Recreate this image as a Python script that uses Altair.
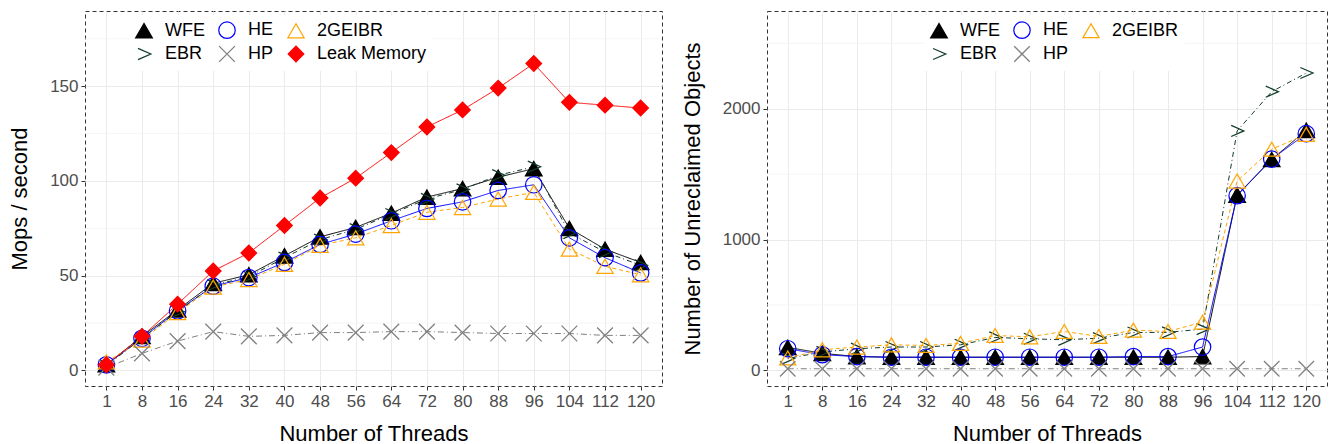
import altair as alt
import pandas as pd

threads = [1, 8, 16, 24, 32, 40, 48, 56, 64, 72, 80, 88, 96, 104, 112, 120]

# Left panel: throughput (Mops / second)
mops_wfe = [3, 18, 32, 46, 50.5, 60.5, 70.5, 75.5, 83, 91.5, 96, 102, 106.5, 75, 64, 57]
mops_ebr = [2.5, 17, 31, 45, 49.5, 59.5, 69, 74.5, 82.5, 90.5, 95.5, 103, 107.5, 72.5, 62.5, 55.5]
mops_he = [3, 17, 31.5, 44.5, 49, 57, 66.5, 72, 79, 85.5, 89, 95, 98, 70, 59.5, 51.5]
mops_2ge = [4.5, 16, 30.5, 44, 48, 56, 66, 70, 76.5, 83.5, 86, 90.5, 94, 64, 55, 50.5]
mops_hp = [1.5, 9, 15.5, 20.5, 18, 18.5, 20, 20, 20.5, 20.5, 20, 19.5, 19.5, 19.5, 18.5, 18.5]
mops_leak = [3, 18, 35, 52.5, 62, 76.5, 91, 101.5, 115, 128.5, 137.5, 149, 162, 141.5, 140, 138.5]

# Right panel: unreclaimed objects
unr_wfe = [175, 130, 105, 100, 100, 100, 100, 100, 100, 100, 100, 100, 105, 1340, 1612, 1835]
unr_ebr = [90, 140, 165, 178, 178, 195, 251, 241, 233, 246, 289, 290, 315, 1830, 2130, 2273]
unr_he = [165, 119, 105, 100, 100, 100, 100, 100, 100, 100, 105, 105, 178, 1335, 1615, 1809]
unr_2ge = [94, 157, 178, 195, 190, 206, 266, 256, 297, 259, 307, 297, 368, 1447, 1690, 1804]
unr_hp = [12, 12, 12, 12, 12, 12, 12, 12, 12, 12, 12, 12, 12, 12, 12, 12]

names_left = ["WFE", "HE", "2GEIBR", "EBR", "HP", "Leak Memory"]
names_right = ["WFE", "HE", "2GEIBR", "EBR", "HP"]

X_PATH = "M-1,-1L1,1M-1,1L1,-1"
CHEV_PATH = "M-0.75,-0.7L0.85,0L-0.75,0.7"

STYLE = {
    "WFE": dict(color="#000000", fill="#000000", shape="triangle-up", size=280, dash=[1, 0], sw=1.2),
    "HE": dict(color="#0000FF", fill="transparent", shape="circle", size=240, dash=[1, 0], sw=1.3),
    "2GEIBR": dict(color="#FFA500", fill="transparent", shape="triangle-up", size=340, dash=[4, 3], sw=1.3),
    "EBR": dict(color="#123D2A", fill="transparent", shape=CHEV_PATH, size=65, dash=[1, 3, 5, 3], sw=2.2),
    "HP": dict(color="#808080", fill="transparent", shape=X_PATH, size=200, dash=[6, 3, 1, 3], sw=1.3),
    "Leak Memory": dict(color="#FF0000", fill="#FF0000", shape="diamond", size=230, dash=[1, 0], sw=1),
}


def long_df(series):
    rows = []
    for name, vals in series:
        for t, v in zip(threads, vals):
            rows.append({"threads": t, "value": v, "series": name})
    return pd.DataFrame(rows)


df_left = long_df([("WFE", mops_wfe), ("EBR", mops_ebr), ("HE", mops_he),
                   ("2GEIBR", mops_2ge), ("HP", mops_hp), ("Leak Memory", mops_leak)])
df_right = long_df([("WFE", unr_wfe), ("EBR", unr_ebr), ("HE", unr_he),
                    ("2GEIBR", unr_2ge), ("HP", unr_hp)])

FONT = "Liberation Sans"


def panel(df, names, ydom, major, minor, ytitle, width, lx):
    sty = [STYLE[n] for n in names]
    x = alt.X("threads:O", scale=alt.Scale(type="point", padding=0.6),
              axis=alt.Axis(title="Number of Threads", labelAngle=0, grid=True,
                            labelPadding=3, titlePadding=14))
    y = alt.Y("value:Q", scale=alt.Scale(domain=ydom, nice=False, zero=False),
              axis=alt.Axis(values=major, title=ytitle, grid=True, labelPadding=3,
                            titlePadding=18, format="d"))
    legend = alt.Legend(title=None, orient="none", legendX=lx, legendY=4, columns=3,
                        direction="horizontal",
                        labelFontSize=18, labelFont=FONT, labelColor="#000000",
                        columnPadding=11, rowPadding=2, padding=6, fillColor="white",
                        labelOffset=12)
    layers = [alt.Chart(pd.DataFrame({"value": minor})).mark_rule(
        color="#F2F2F2", strokeWidth=0.8).encode(y=y)]
    for n in names:
        s = STYLE[n]
        layers.append(
            alt.Chart(df).transform_filter(alt.datum.series == n).mark_line(
                color=s["color"], strokeDash=s["dash"], strokeWidth=1).encode(x=x, y=y)
        )
    points = alt.Chart(df).mark_point(opacity=1).encode(
        x=x, y=y,
        stroke=alt.Stroke("series:N", scale=alt.Scale(domain=names, range=[s["color"] for s in sty]), legend=legend),
        fill=alt.Fill("series:N", scale=alt.Scale(domain=names, range=[s["fill"] for s in sty]), legend=legend),
        shape=alt.Shape("series:N", scale=alt.Scale(domain=names, range=[s["shape"] for s in sty]), legend=legend),
        size=alt.Size("series:N", scale=alt.Scale(domain=names, range=[s["size"] for s in sty]), legend=legend),
        strokeWidth=alt.StrokeWidth("series:N", scale=alt.Scale(domain=names, range=[s["sw"] for s in sty]), legend=legend),
    )
    layers.append(points)
    return alt.layer(*layers).properties(width=width, height=375)


left = panel(df_left, names_left, [-8.2, 189.7], [0, 50, 100, 150], [25, 75, 125, 175],
             "Mops / second", 577, 44)
right = panel(df_right, names_right, [-120, 2747], [0, 1000, 2000], [500, 1500, 2500],
              "Number of Unreclaimed Objects", 560, 157)

chart = alt.hconcat(left, right, spacing=17).resolve_scale(
    x="independent", y="independent", stroke="independent",
    fill="independent", shape="independent", size="independent",
    strokeWidth="independent"
).resolve_legend(
    stroke="independent", fill="independent", shape="independent",
    size="independent", strokeWidth="independent"
).properties(
    padding={"left": 8, "top": 10, "right": 2, "bottom": 0}, background="white"
).configure_view(
    stroke="#333333", strokeDash=[4, 3], strokeWidth=1
).configure_axis(
    domain=False, tickColor="#333333", tickSize=4, labelFontSize=17, labelFont=FONT,
    labelColor="#4D4D4D", titleFontSize=22, titleFont=FONT, titleFontWeight="normal",
    titleColor="#000000", gridColor="#EBEBEB", gridWidth=1
)

chart.save("out.html", embed_options={"renderer": "svg", "actions": False})
